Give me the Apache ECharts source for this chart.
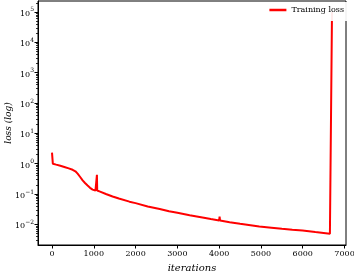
<!DOCTYPE html>
<html>
<head>
<meta charset="utf-8">
<script src="https://cdn.jsdelivr.net/npm/echarts@6/dist/echarts.min.js"></script>
<style>html,body{margin:0;padding:0;background:#fff}#c{width:354px;height:273px}</style>
</head>
<body>
<div id="c"></div>
<script>
var iterations = [0, 20, 60, 100, 200, 295, 400, 494, 560, 613, 670, 733, 790, 852, 910, 971, 1040, 1070, 1075, 1082, 1150, 1290, 1450, 1600, 1854, 2000, 2290, 2578, 2800, 3000, 3294, 3600, 3800, 4000, 4010, 4022, 4250, 4500, 4750, 4960, 5250, 5500, 5750, 5995, 6300, 6500, 6650, 6680, 6700];
var lossValues = [2.3, 1.0, 0.9, 0.93, 0.85, 0.78, 0.70, 0.63, 0.56, 0.47, 0.37, 0.28, 0.23, 0.19, 0.16, 0.14, 0.13, 0.13, 0.43, 0.13, 0.12, 0.10, 0.083, 0.071, 0.056, 0.050, 0.039, 0.032, 0.027, 0.024, 0.020, 0.0168, 0.015, 0.0135, 0.018, 0.0133, 0.0118, 0.0105, 0.0094, 0.0085, 0.0078, 0.0072, 0.0067, 0.0063, 0.0056, 0.0052, 0.0049, 0.0048, 100000];
var xTicks = [0, 1000, 2000, 3000, 4000, 5000, 6000, 7000];
var yDecades = [-2, -1, 0, 1, 2, 3, 4, 5];
var seriesName = 'Training loss';

var yMin = -2.68, yMax = 5.36;
var minorTicks = [];
for (var n = -3; n <= 5; n++) {
  for (var k = 2; k <= 9; k++) {
    var v = n + Math.log10(k);
    if (v > yMin && v < yMax) minorTicks.push(v);
  }
}
var data = iterations.map(function (it, i) { return [it, Math.log10(lossValues[i])]; });
var serif = '"DejaVu Serif", "Liberation Serif", serif';

var chart = echarts.init(document.getElementById('c'), null, {renderer: 'canvas'});
chart.setOption({
  animation: false,
  backgroundColor: '#fff',
  grid: {left: 38, right: 8, top: 1, bottom: 28, show: true, borderColor: '#000', borderWidth: 1,
    containLabel: false, outerBoundsMode: 'none'},
  legend: {
    data: [seriesName], right: 6, top: 2, icon: 'rect', itemWidth: 17, itemHeight: 2.5, itemGap: 5,
    padding: [4, 4, 7, 5], backgroundColor: 'rgba(255,255,255,0.92)',
    textStyle: {fontFamily: serif, fontSize: 8, color: '#000'}
  },
  xAxis: {
    type: 'value', min: -335, max: 7035,
    splitLine: {show: false},
    axisLine: {onZero: false, lineStyle: {color: '#000', width: 1}},
    axisTick: {customValues: xTicks, length: 3.5, lineStyle: {color: '#000'}},
    axisLabel: {customValues: xTicks, fontFamily: serif, fontSize: 8, color: '#000', margin: 5,
      formatter: function (v) { return String(Math.round(v)); }},
    name: 'iterations', nameLocation: 'middle', nameGap: 18, nameMoveOverlap: false,
    nameTextStyle: {fontFamily: serif, fontStyle: 'italic', fontSize: 10, color: '#000'}
  },
  yAxis: [{
    type: 'value', min: yMin, max: yMax, position: 'left',
    splitLine: {show: false},
    axisLine: {onZero: false, lineStyle: {color: '#000', width: 1}},
    axisTick: {customValues: yDecades, length: 3.5, lineStyle: {color: '#000'}},
    axisLabel: {customValues: yDecades, fontFamily: serif, fontSize: 8, color: '#000', margin: 4,
      formatter: function (v) { var n = Math.round(v); return '{b|10}{s|' + (n < 0 ? '\u2212' + (-n) : n) + '}'; },
      rich: {
        b: {fontFamily: serif, fontSize: 8, color: '#000', padding: [4, 0, 0, 0]},
        s: {fontFamily: serif, fontSize: 6, color: '#000', padding: [0, 0, 4, 0]}
      }},
    name: 'loss (log)', nameLocation: 'middle', nameGap: 25, nameMoveOverlap: false,
    nameTextStyle: {fontFamily: serif, fontStyle: 'italic', fontSize: 9, color: '#000'}
  }, {
    type: 'value', min: yMin, max: yMax, position: 'left', alignTicks: false,
    splitLine: {show: false},
    axisLine: {show: false, onZero: false},
    axisTick: {customValues: minorTicks, length: 2, lineStyle: {color: '#000', width: 0.8}},
    axisLabel: {show: false}
  }],
  series: [{
    name: seriesName, type: 'line', data: data, symbol: 'none', yAxisIndex: 0,
    lineStyle: {color: '#ff0000', width: 2}, itemStyle: {color: '#ff0000'}
  }]
});
</script>
</body>
</html>
